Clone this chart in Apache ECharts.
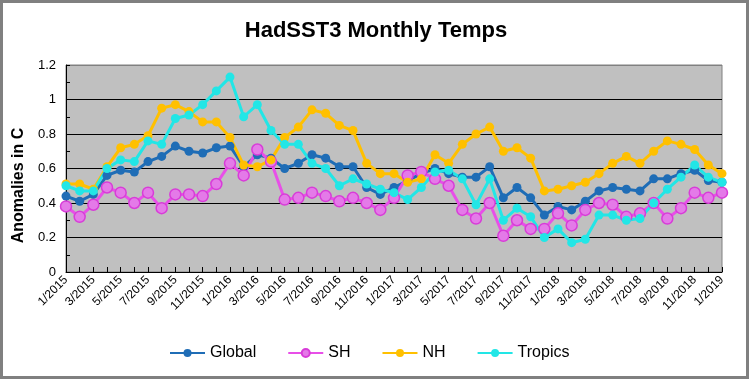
<!DOCTYPE html>
<html><head><meta charset="utf-8">
<script src="https://cdn.jsdelivr.net/npm/echarts@6/dist/echarts.min.js"></script>
<style>
html,body{margin:0;padding:0;background:#fff;}
#frame{position:absolute;left:0;top:0;width:743px;height:373px;border:3px solid #808080;background:#fff;}
#c{position:absolute;left:0;top:0;width:749px;height:379px;}
</style></head>
<body><div id="frame"></div><div id="c"></div>
<script>
const months = ["1/2015","2/2015","3/2015","4/2015","5/2015","6/2015","7/2015","8/2015","9/2015","10/2015","11/2015","12/2015",
"1/2016","2/2016","3/2016","4/2016","5/2016","6/2016","7/2016","8/2016","9/2016","10/2016","11/2016","12/2016",
"1/2017","2/2017","3/2017","4/2017","5/2017","6/2017","7/2017","8/2017","9/2017","10/2017","11/2017","12/2017",
"1/2018","2/2018","3/2018","4/2018","5/2018","6/2018","7/2018","8/2018","9/2018","10/2018","11/2018","12/2018","1/2019"];
const globalVals = [0.44,0.41,0.45,0.56,0.59,0.58,0.64,0.67,0.73,0.70,0.69,0.72,
0.73,0.61,0.68,0.66,0.60,0.63,0.68,0.66,0.61,0.61,0.49,0.45,
0.49,0.53,0.57,0.60,0.57,0.55,0.55,0.61,0.43,0.49,0.43,0.33,
0.38,0.36,0.41,0.47,0.49,0.48,0.47,0.54,0.54,0.57,0.59,0.53,0.52];
const shVals = [0.38,0.32,0.39,0.49,0.46,0.40,0.46,0.37,0.45,0.45,0.44,0.51,
0.63,0.56,0.71,0.64,0.42,0.43,0.46,0.44,0.41,0.43,0.40,0.36,
0.43,0.56,0.58,0.54,0.50,0.36,0.31,0.40,0.21,0.30,0.25,0.25,
0.34,0.27,0.36,0.40,0.39,0.32,0.34,0.40,0.31,0.37,0.46,0.43,0.46];
const nhVals = [0.51,0.51,0.48,0.61,0.72,0.74,0.79,0.95,0.97,0.93,0.87,0.87,
0.78,0.62,0.61,0.65,0.78,0.84,0.94,0.92,0.85,0.82,0.63,0.57,
0.57,0.52,0.54,0.68,0.63,0.74,0.80,0.84,0.70,0.72,0.66,0.47,
0.48,0.50,0.52,0.57,0.63,0.67,0.63,0.70,0.76,0.74,0.71,0.62,0.57];
const tropicsVals = [0.50,0.47,0.47,0.60,0.65,0.64,0.76,0.74,0.89,0.91,0.97,1.05,
1.13,0.90,0.97,0.82,0.74,0.74,0.63,0.60,0.50,0.54,0.51,0.48,
0.46,0.42,0.49,0.58,0.59,0.54,0.39,0.54,0.30,0.37,0.32,0.20,
0.25,0.17,0.19,0.33,0.33,0.30,0.31,0.40,0.48,0.55,0.62,0.55,0.52];

const font = "'Liberation Sans', Arial, sans-serif";
const chart = echarts.init(document.getElementById('c'), null, {renderer:'canvas'});
function ser(name, data, color, size, fill, border){
  return {name, type:'line', data, symbol:'circle', symbolSize:size, showAllSymbol:true,
    lineStyle:{color, width:3}, itemStyle:{color:fill||color, borderColor:border||color, borderWidth: border?1.5:0},
    emphasis:{disabled:true}, animation:false, z:2};
}
const splitColors = [];
for (let i = 0; i <= 12; i++) splitColors.push(i === 12 ? '#808080' : (i % 2 === 0 ? '#000' : 'rgba(0,0,0,0)'));
chart.setOption({
  animation:false,
  backgroundColor:'transparent',
  title:{text:'HadSST3 Monthly Temps', left:371, top:15, textAlign:'center',
    textStyle:{fontFamily:font, fontSize:22, fontWeight:'bold', color:'#000'}},
  grid:{left:66, right:27, top:65, bottom:107, show:true, backgroundColor:'#C0C0C0', borderColor:'#808080', borderWidth:1},
  legend:{top:340, left:164, itemWidth:35, itemHeight:10, itemGap:31,
    textStyle:{fontFamily:font, fontSize:16, color:'#000'},
    data:['Global','SH','NH','Tropics']},
  xAxis:{type:'category', data:months, boundaryGap:false,
    axisLine:{lineStyle:{color:'#000', width:1}},
    axisTick:{inside:true, length:5, interval:0, lineStyle:{color:'#000'}},
    axisLabel:{interval:1, rotate:45, fontFamily:font, fontSize:12, color:'#000', margin:6},
    splitLine:{show:false}},
  yAxis:{type:'value', min:0, max:1.2, interval:0.1,
    name:'Anomalies in C', nameLocation:'middle', nameGap:39, nameRotate:90,
    nameTextStyle:{fontFamily:font, fontSize:16, fontWeight:'bold', color:'#000', padding:[0,34,0,0]},
    axisLine:{show:true, lineStyle:{color:'#000'}},
    axisTick:{show:true, inside:true, length:4, lineStyle:{color:'#000'}},
    axisLabel:{fontFamily:font, fontSize:13, color:'#000', margin:10,
      formatter:v=>{const k=Math.round(v*10); return k%2===0 ? String(+v.toFixed(1)) : '';}},
    splitLine:{show:true, lineStyle:{color:splitColors, width:1}}},
  series:[
    ser('Global', globalVals, '#1F6DB6', 9),
    ser('SH', shVals, '#E84FE8', 11, '#E47AE8', '#D83CD8'),
    ser('NH', nhVals, '#FFC000', 9),
    ser('Tropics', tropicsVals, '#22E6E6', 9)
  ]
});
</script></body></html>
